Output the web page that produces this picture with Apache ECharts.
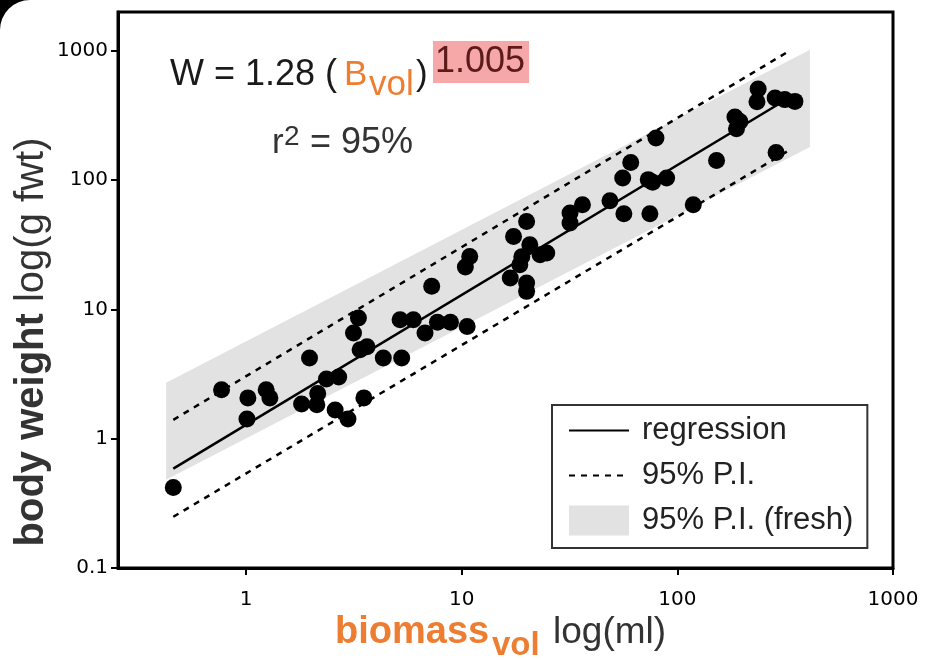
<!DOCTYPE html>
<html><head><meta charset="utf-8">
<script src="https://cdn.jsdelivr.net/npm/echarts@6/dist/echarts.min.js"></script>
<style>html,body{margin:0;padding:0;background:#fff}#c{width:926px;height:660px}</style>
</head><body><div id="c"></div>
<script>
// observed data: biomass volume (ml) vs body weight (g fwt)
const biomass = [0.46,0.77,1.02,1.01,1.24,1.29,1.81,1.97,2.13,2.15,2.36,2.69,2.59,2.97,3.52,3.32,3.15,3.38,3.64,4.33,5.27,5.18,5.97,6.76,7.26,7.72,8.87,10.6,10.4,10.9,16.8,19.0,18.6,20.0,20.0,17.4,20.0,20.7,23.1,24.8,31.8,31.8,36.3,48.7,56.5,55.8,60.8,79.6,73.3,76.8,89.2,74.6,118.5,152,185,195,188,237,234,284,315,351,287];
const weight  = [0.42,2.39,2.07,1.42,2.39,2.07,1.86,4.21,1.83,2.24,2.90,3.00,1.67,1.42,2.07,8.59,6.57,4.88,5.15,4.21,4.21,8.33,8.33,6.57,15.1,7.97,7.97,7.39,21.3,25.7,17.5,25.6,22.2,16.0,13.8,36.7,48.0,31.7,26.5,27.3,46.7,55.8,64.6,69.4,55.1,104,137,212,101,96.2,104,55.1,64.6,142,308,284,250,508,405,433,420,407,164];
const regX = [0.46, 333];
const regY = [0.587, 438];
const piUpperX = [0.46, 326];
const piUpperY = [1.40, 986];
const piLowerX = [0.46, 333];
const piLowerY = [0.249, 172];
const freshX = [0.426, 412, 412, 0.426];
const freshY = [2.71, 1022, 181, 0.482];
const xTickLabels = [1, 10, 100, 1000];
const yTickLabels = [0.1, 1, 10, 100, 1000];

const zip = (a, b) => a.map((v, i) => [v, b[i]]);
const chart = echarts.init(document.getElementById('c'), null, {renderer: 'canvas'});
const sans = 'Liberation Sans, Arial, sans-serif';
const tickFont = 'DejaVu Sans, sans-serif';
const hidden = {color: 'rgba(0,0,0,0)', borderColor: 'rgba(0,0,0,0)', borderWidth: 0, opacity: 0};

chart.setOption({
  animation: false,
  backgroundColor: '#fff',
  grid: {left: 118, right: 33, top: 12, bottom: 92, show: true, borderColor: '#000', borderWidth: 3, containLabel: false},
  xAxis: {
    type: 'log', logBase: 10, min: 0.2549, max: 1000,
    axisLine: {show: true, lineStyle: {color: '#000', width: 3}},
    axisTick: {show: true, length: 7, lineStyle: {color: '#000', width: 2}, customValues: xTickLabels},
    axisLabel: {customValues: xTickLabels, margin: 22, color: '#000', fontFamily: tickFont, fontSize: 20, formatter: v => String(v)},
    splitLine: {show: false}, minorTick: {show: false}
  },
  yAxis: {
    type: 'log', logBase: 10, min: 0.1, max: 2000,
    axisLine: {show: true, lineStyle: {color: '#000', width: 3}},
    axisTick: {show: true, length: 7, lineStyle: {color: '#000', width: 2}, customValues: yTickLabels},
    axisLabel: {customValues: yTickLabels, margin: 10, color: '#000', fontFamily: tickFont, fontSize: 20, formatter: v => String(v)},
    splitLine: {show: false}, minorTick: {show: false}
  },
  legend: {
    orient: 'vertical', left: 552, top: 405, padding: [10, 14, 12, 16],
    itemWidth: 60, itemHeight: 30, itemGap: 14,
    borderColor: '#333', borderWidth: 2, backgroundColor: '#fff', selectedMode: false,
    textStyle: {fontFamily: sans, fontSize: 31, color: '#222', lineHeight: 30, padding: [0, 0, 0, 8]},
    data: [
      {name: 'regression', itemStyle: hidden},
      {name: '95% P.I.', itemStyle: hidden},
      {name: '95% P.I. (fresh)', icon: 'rect'}
    ]
  },
  series: [
    {
      name: '95% P.I. (fresh)', type: 'custom', z: 1, silent: true,
      itemStyle: {color: '#e2e2e2'},
      data: zip(freshX, freshY),
      renderItem: function (params, api) {
        if (params.dataIndex !== 0) return null;
        const pts = freshX.map((x, i) => api.coord([x, freshY[i]]));
        return {type: 'polygon', shape: {points: pts}, style: {fill: '#e2e2e2'}};
      }
    },
    {name: '95% P.I.', type: 'line', z: 2, symbol: 'none', data: zip(piUpperX, piUpperY),
      lineStyle: {color: '#000', width: 2.5, type: [6, 6]}, itemStyle: {color: '#000'}},
    {name: '95% P.I.', type: 'line', z: 2, symbol: 'none', data: zip(piLowerX, piLowerY),
      lineStyle: {color: '#000', width: 2.5, type: [6, 6]}, itemStyle: {color: '#000'}},
    {name: 'regression', type: 'line', z: 3, symbol: 'none', data: zip(regX, regY),
      lineStyle: {color: '#000', width: 2.5}, itemStyle: {color: '#000'}},
    {name: 'data', type: 'scatter', z: 4, symbol: 'circle', symbolSize: 17,
      itemStyle: {color: '#000', opacity: 1}, data: zip(biomass, weight)}
  ],
  graphic: [
    {type: 'rect', left: 0, top: 0, shape: {width: 30, height: 30}, style: {fill: '#000'}, z: 100},
    {type: 'circle', shape: {cx: 30, cy: 30, r: 30}, style: {fill: '#fff'}, z: 101},
    {type: 'text', x: 170, y: 75, z: 110, style: {text: 'W = 1.28 (', font: '36px ' + sans, fill: '#1a1a1a', textVerticalAlign: 'middle'}},
    {type: 'text', x: 344, y: 75, z: 110, style: {text: 'B', font: '35px ' + sans, fill: '#ED7D31', textVerticalAlign: 'middle'}},
    {type: 'text', x: 369, y: 85, z: 110, style: {text: 'vol', font: '35px ' + sans, fill: '#ED7D31', textVerticalAlign: 'middle'}},
    {type: 'text', x: 416, y: 75, z: 110, style: {text: ')', font: '35px ' + sans, fill: '#1a1a1a', textVerticalAlign: 'middle'}},
    {type: 'text', x: 433, y: 62, z: 110, style: {text: '1.005', font: '36px ' + sans, fill: '#5c1a1a', textVerticalAlign: 'middle',
      backgroundColor: '#f6a8a8', padding: [3, 4, 3, 2], boxShadowBlur: 8, boxShadowColor: '#f6a8a8'}},
    {type: 'text', x: 272, y: 143, z: 110, style: {text: 'r', font: '35px ' + sans, fill: '#333', textVerticalAlign: 'middle'}},
    {type: 'text', x: 284, y: 137, z: 110, style: {text: '2', font: '28px ' + sans, fill: '#333', textVerticalAlign: 'middle'}},
    {type: 'text', x: 310, y: 143, z: 110, style: {text: '= 95%', font: '36px ' + sans, fill: '#333', textVerticalAlign: 'middle'}},
    {type: 'text', x: 335, y: 633, z: 110, style: {text: 'biomass', font: 'bold 38px ' + sans, fill: '#ED7D31', textVerticalAlign: 'middle'}},
    {type: 'text', x: 492, y: 646, z: 110, style: {text: 'vol', font: 'bold 33px ' + sans, fill: '#ED7D31', textVerticalAlign: 'middle'}},
    {type: 'text', x: 553, y: 633, z: 110, style: {text: 'log(ml)', font: '37px ' + sans, fill: '#333', textVerticalAlign: 'middle'}},
    {type: 'text', x: 32, y: 342, rotation: Math.PI / 2, z: 110, style: {
      text: '{b|body weight} {n|log(g fwt)}', textAlign: 'center', textVerticalAlign: 'middle',
      rich: {b: {font: 'bold 40px ' + sans, fill: '#333'}, n: {font: '40px ' + sans, fill: '#333'}},
      font: '40px ' + sans, fill: '#333'}}
  ]
});
</script></body></html>
